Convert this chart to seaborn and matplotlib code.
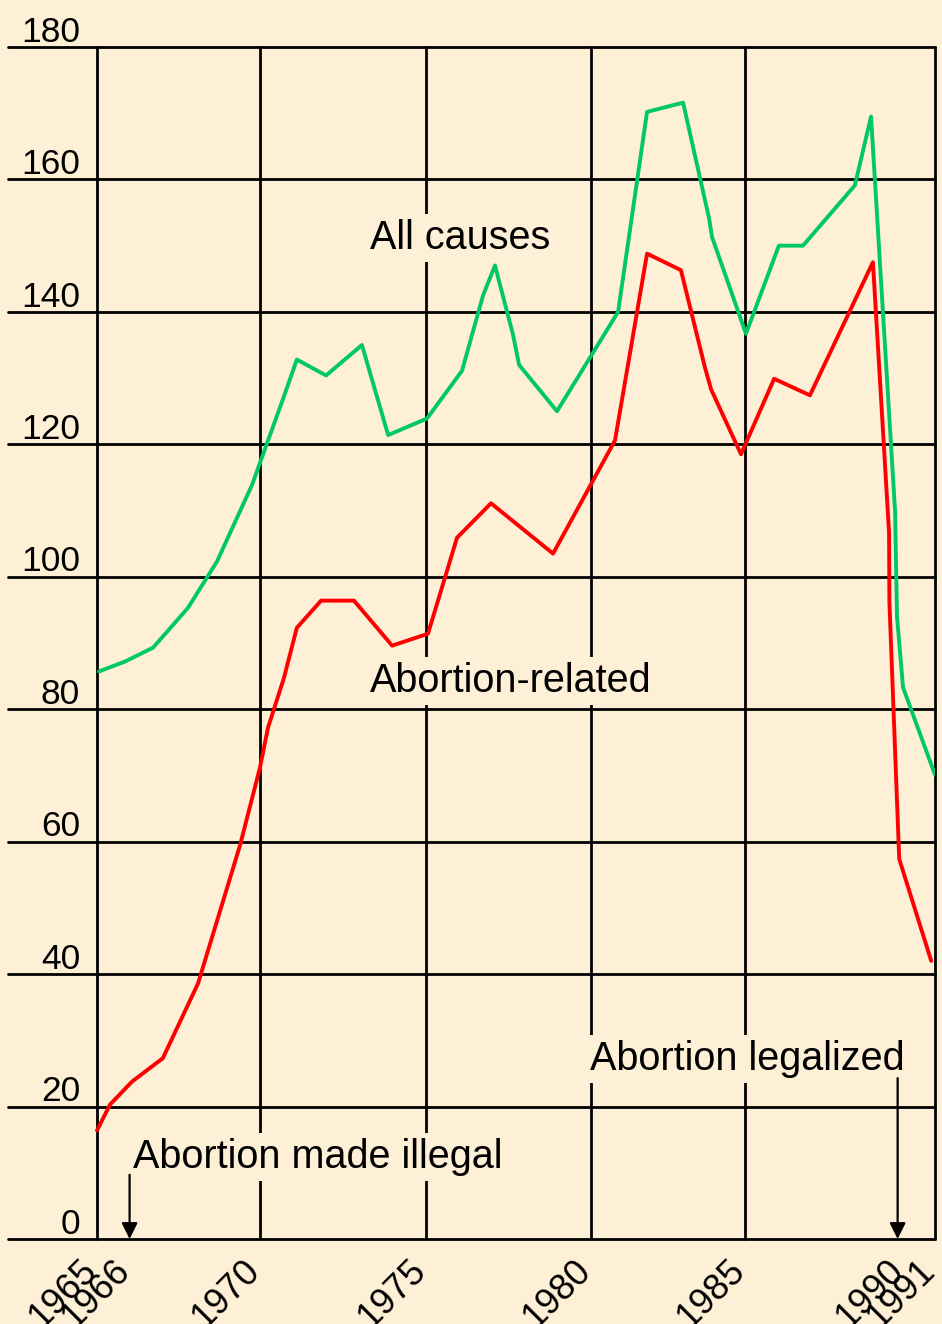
import matplotlib
matplotlib.use("Agg")
import matplotlib.pyplot as plt
import matplotlib.transforms as mtransforms
import numpy as np
import pandas as pd
import seaborn as sns

# Maternal deaths per 100,000 live births
all_years = [1965.06, 1965.86, 1966.72, 1967.79, 1968.68, 1969.75, 1970.69, 1971.11,
             1971.99, 1973.07, 1973.86, 1975.03, 1976.09, 1976.73, 1977.09, 1977.64,
             1977.82, 1978.97, 1980.88, 1981.82, 1982.99, 1983.83, 1983.93, 1985.03,
             1986.07, 1986.83, 1988.47, 1988.98, 1989.74, 1989.80, 1989.99, 1991.0]
all_values = [85.7, 87.2, 89.3, 95.3, 102.3, 113.8, 126.8, 132.8,
              130.4, 135.0, 121.4, 123.9, 131.1, 142.5, 147.0, 136.5,
              132.0, 125.0, 140.0, 170.2, 171.6, 154.2, 151.3, 136.7,
              150.0, 150.0, 159.1, 169.5, 109.8, 94.0, 83.3, 70.1]

abortion_years = [1965.0, 1965.40, 1966.07, 1967.02, 1968.10, 1969.39, 1970.0, 1970.24,
                  1970.72, 1971.11, 1971.84, 1972.83, 1973.98, 1975.06, 1975.94, 1976.97,
                  1978.85, 1980.78, 1981.82, 1982.92, 1983.70, 1983.90, 1984.87, 1985.92,
                  1987.05, 1989.04, 1989.55, 1989.56, 1989.87, 1990.88]
abortion_values = [16.4, 20.3, 23.75, 27.3, 38.6, 59.5, 71.2, 77.2,
                   84.7, 92.3, 96.4, 96.4, 89.6, 91.4, 105.9, 111.1,
                   103.5, 120.6, 148.8, 146.3, 131.6, 128.3, 118.5, 129.9,
                   127.4, 147.5, 106.6, 96.2, 57.4, 42.0]

y_ticks = [0, 20, 40, 60, 80, 100, 120, 140, 160, 180]
grid_years = [1965, 1970, 1975, 1980, 1985, 1991]
x_tick_years = [1965, 1966, 1970, 1975, 1980, 1985, 1990, 1991]
x_tick_labels = [str(y) for y in x_tick_years]

# the original's year grid is not evenly spaced; these anchors reproduce it
scale_years = [1962.0, 1965.0, 1970.0, 1975.0, 1980.0, 1985.0, 1991.0]
scale_pos = [-0.8, 97.0, 260.0, 426.0, 591.0, 745.0, 935.0]

BG = "#FEF0D7"
GREEN = "#00C864"
RED = "#FF0000"

sns.set_style("white", {"axes.facecolor": BG, "figure.facecolor": BG,
                        "text.color": "black", "xtick.color": "black"})
plt.rcParams["font.family"] = ["Liberation Sans", "DejaVu Sans"]


def _fwd(x):
    return np.interp(x, scale_years, scale_pos)


def _inv(p):
    return np.interp(p, scale_pos, scale_years)


fig = plt.figure(figsize=(9.42, 13.24), dpi=100)
ax = fig.add_axes([8 / 942, 85 / 1324, 927 / 942, 1192 / 1324])
ax.set_xscale("function", functions=(_fwd, _inv))
ax.set_xlim(_inv(8.0), 1991)
ax.set_ylim(0, 180)

for y in y_ticks:
    ax.axhline(y, color="black", lw=2.0, zorder=1, clip_on=False)
    ax.text(0.0777, y + 0.8, str(y), transform=ax.get_yaxis_transform(),
            ha="right", va="baseline", fontsize=25.5, color="black", zorder=2)
for x in grid_years:
    ax.axvline(x, color="black", lw=2.0, zorder=1, clip_on=False)

df = pd.concat([
    pd.DataFrame({"year": all_years, "rate": all_values, "series": "All causes"}),
    pd.DataFrame({"year": abortion_years, "rate": abortion_values, "series": "Abortion-related"}),
])
sns.lineplot(data=df, x="year", y="rate", hue="series",
             palette={"All causes": GREEN, "Abortion-related": RED},
             estimator=None, sort=False, lw=2.8, legend=False, ax=ax, zorder=4)

label_box = dict(boxstyle="square,pad=0.12", fc=BG, ec="none")
label_kw = dict(fontsize=28.5, va="baseline", color="black", bbox=label_box, zorder=3)
ax.text(1973.31, 149.5, "All causes", **label_kw)
ax.text(1973.31, 82.6, "Abortion-related", **label_kw)
ax.text(1979.97, 25.5, "Abortion legalized", **label_kw)
ax.text(1966.10, 10.7, "Abortion made illegal", **label_kw)

arrow = dict(arrowstyle="-|>", color="black", lw=1.6, mutation_scale=24, shrinkA=0, shrinkB=0)
ax.annotate("", xy=(1966, 0), xytext=(1966, 9.7), arrowprops=arrow, zorder=5)
ax.annotate("", xy=(1989.82, 0), xytext=(1989.82, 24.3), arrowprops=arrow, zorder=5)

ax.set_xticks(x_tick_years, labels=x_tick_labels, rotation=45, ha="right", va="top",
              fontsize=26, color="black")
ax.xaxis.set_minor_locator(matplotlib.ticker.NullLocator())
ax.set_yticks([])
ax.tick_params(axis="x", length=0, pad=10)
# nudge the slanted year labels a little to the right, as in the original
shift = mtransforms.ScaledTranslation(7 / 100, 0, fig.dpi_scale_trans)
for lbl in ax.get_xticklabels():
    lbl.set_transform(lbl.get_transform() + shift)
ax.set_xlabel("")
ax.set_ylabel("")
sns.despine(ax=ax, left=True, bottom=True)

fig.savefig("out.png", dpi=100, facecolor=BG)
